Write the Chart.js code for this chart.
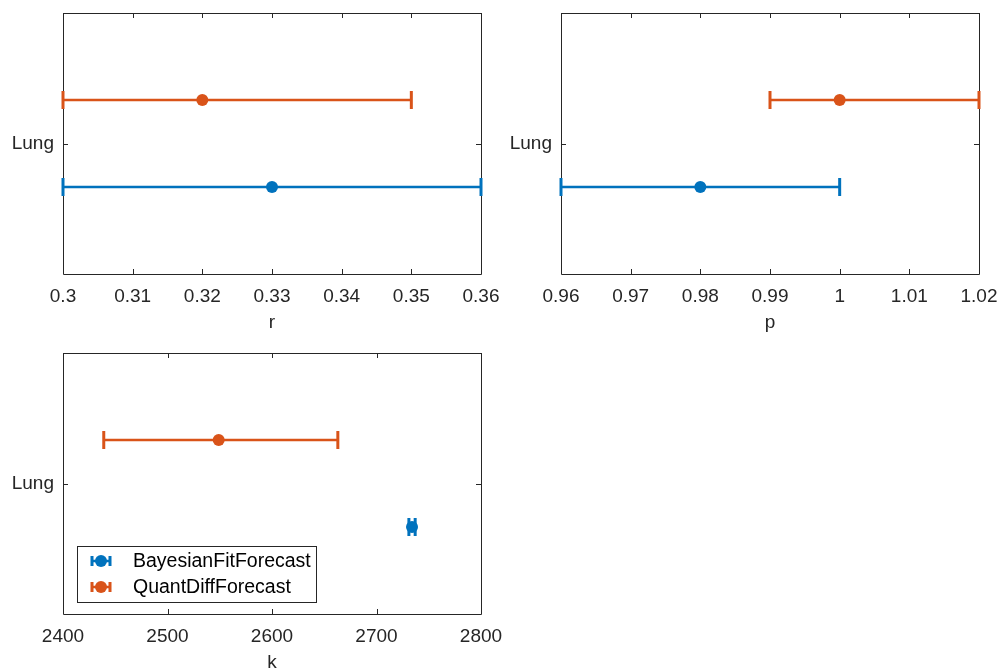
<!DOCTYPE html>
<html>
<head>
<meta charset="utf-8">
<script src="https://cdn.jsdelivr.net/npm/chart.js@4.4.1/dist/chart.umd.min.js"></script>
<style>
  html, body { margin: 0; padding: 0; background: #ffffff; overflow: hidden; }
  #wrap { position: relative; width: 1000px; height: 668px; overflow: hidden; }
  canvas { position: absolute; }
</style>
</head>
<body>
<div id="wrap">
  <canvas id="cR" width="520" height="334" style="left:0;top:0;width:520px;height:334px"></canvas>
  <canvas id="cP" width="500" height="334" style="left:500px;top:0;width:500px;height:334px"></canvas>
  <canvas id="cK" width="520" height="354" style="left:0;top:320px;width:520px;height:354px"></canvas>
</div>
<script>
// Group labels and series
const categories = ['Lung'];
const seriesNames = ['BayesianFitForecast', 'QuantDiffForecast'];
const seriesColors = ['#0072BD', '#D95319'];

// Parameter r: estimate with lower / upper bounds
const rBayes = [0.33];
const rBayesLow = [0.30];
const rBayesHigh = [0.36];
const rQuant = [0.32];
const rQuantLow = [0.30];
const rQuantHigh = [0.35];
const rTicks = [0.30, 0.31, 0.32, 0.33, 0.34, 0.35, 0.36];

// Parameter p
const pBayes = [0.98];
const pBayesLow = [0.96];
const pBayesHigh = [1.00];
const pQuant = [1.00];
const pQuantLow = [0.99];
const pQuantHigh = [1.02];
const pTicks = [0.96, 0.97, 0.98, 0.99, 1.00, 1.01, 1.02];

// Parameter k
const kBayes = [2734];
const kBayesLow = [2731];
const kBayesHigh = [2737];
const kQuant = [2549];
const kQuantLow = [2439];
const kQuantHigh = [2663];
const kTicks = [2400, 2500, 2600, 2700, 2800];

// vertical offset of each series around its group row
const seriesOffset = [-1 / 6, 1 / 6];

Chart.defaults.font.family = '"Liberation Sans", Arial, Helvetica, sans-serif';
Chart.defaults.color = '#262626';
Chart.defaults.devicePixelRatio = 1;

const FONT_SIZE = 19;
const LEGEND_FONT_SIZE = 19.5;
const AXIS_COLOR = '#262626';

function errorDatasets(estimates, lows, highs) {
  const sets = [];
  estimates.forEach((est, s) => {
    const color = seriesColors[s];
    est.forEach((v, i) => {
      const y = i + 1 + seriesOffset[s];
      // whisker with end caps
      sets.push({
        type: 'line',
        label: seriesNames[s] + ' range',
        data: [{ x: lows[s][i], y: y }, { x: highs[s][i], y: y }],
        borderColor: color,
        backgroundColor: color,
        borderWidth: 2.5,
        pointStyle: 'line',
        pointRotation: 90,
        pointRadius: 9,
        pointBorderWidth: 3,
        pointBorderColor: color,
        pointHoverRadius: 9,
        clip: false,
        order: 2
      });
      // centre estimate
      sets.push({
        type: 'scatter',
        label: seriesNames[s],
        data: [{ x: v, y: y }],
        borderColor: color,
        backgroundColor: color,
        pointStyle: 'circle',
        pointRadius: 6,
        pointBorderWidth: 0,
        clip: false,
        order: 1
      });
    });
  });
  return sets;
}

// box around the plot area with inward tick marks on all four sides
const framePlugin = {
  id: 'frame',
  beforeDatasetsDraw(chart) {
    const { ctx, chartArea: a, scales } = chart;
    const len = 5;
    ctx.save();
    ctx.strokeStyle = AXIS_COLOR;
    ctx.lineWidth = 1;
    ctx.beginPath();
    ctx.rect(Math.round(a.left) + 0.5, Math.round(a.top) + 0.5,
             Math.round(a.right - a.left), Math.round(a.bottom - a.top));
    scales.x.ticks.forEach(t => {
      const x = Math.round(scales.x.getPixelForValue(t.value)) + 0.5;
      ctx.moveTo(x, a.bottom); ctx.lineTo(x, a.bottom - len);
      ctx.moveTo(x, a.top); ctx.lineTo(x, a.top + len);
    });
    scales.y.ticks.forEach(t => {
      const y = Math.round(scales.y.getPixelForValue(t.value)) + 0.5;
      ctx.moveTo(a.left, y); ctx.lineTo(a.left + len, y);
      ctx.moveTo(a.right, y); ctx.lineTo(a.right - len, y);
    });
    ctx.stroke();
    ctx.restore();
  }
};

// errorbar-style legend drawn inside the lower-left of the plot area
const legendPlugin = {
  id: 'errLegend',
  afterDatasetsDraw(chart, args, opts) {
    if (!opts.show) return;
    const { ctx, chartArea: a } = chart;
    ctx.save();
    ctx.font = LEGEND_FONT_SIZE + 'px ' + Chart.defaults.font.family;
    const textW = Math.max(...seriesNames.map(n => ctx.measureText(n).width));
    const left = a.left + 14, bottom = a.bottom - 12;
    const rowH = 26;
    const h = rowH * seriesNames.length + 4;
    const w = 56 + textW + 5;
    const top = bottom - h;
    ctx.fillStyle = '#ffffff';
    ctx.fillRect(left, top, w, h);
    ctx.strokeStyle = AXIS_COLOR;
    ctx.lineWidth = 1;
    ctx.strokeRect(Math.round(left) + 0.5, Math.round(top) + 0.5, Math.round(w), Math.round(h));
    seriesNames.forEach((name, i) => {
      const cy = top + 15 + i * rowH;
      const cx = left + 24;
      const color = seriesColors[i];
      ctx.strokeStyle = color;
      ctx.fillStyle = color;
      ctx.lineWidth = 2.5;
      ctx.beginPath();
      ctx.moveTo(cx - 9, cy); ctx.lineTo(cx + 9, cy);
      ctx.stroke();
      ctx.lineWidth = 3;
      ctx.beginPath();
      ctx.moveTo(cx - 9, cy - 5); ctx.lineTo(cx - 9, cy + 5);
      ctx.moveTo(cx + 9, cy - 5); ctx.lineTo(cx + 9, cy + 5);
      ctx.stroke();
      ctx.beginPath();
      ctx.arc(cx, cy, 6, 0, Math.PI * 2);
      ctx.fill();
      ctx.fillStyle = '#000000';
      ctx.textBaseline = 'middle';
      ctx.textAlign = 'left';
      ctx.fillText(name, left + 56, cy + 1);
    });
    ctx.restore();
  }
};

function makeChart(id, datasets, xTicks, xTitle, pad, yAxisWidth, showLegend) {
  return new Chart(document.getElementById(id), {
    data: { datasets },
    options: {
      responsive: false,
      animation: false,
      events: [],
      layout: { padding: pad },
      plugins: {
        legend: { display: false },
        tooltip: { enabled: false },
        errLegend: { show: showLegend }
      },
      scales: {
        x: {
          type: 'linear',
          min: xTicks[0],
          max: xTicks[xTicks.length - 1],
          grid: { display: false, drawTicks: false, tickLength: 0 },
          border: { display: false },
          afterBuildTicks: axis => { axis.ticks = xTicks.map(v => ({ value: v })); },
          afterFit: axis => {
            axis.height = 60;
            axis.paddingLeft = 0;
            axis.paddingRight = 0;
          },
          ticks: {
            autoSkip: false,
            maxRotation: 0,
            padding: 11,
            color: AXIS_COLOR,
            font: { size: FONT_SIZE },
            callback: v => String(Number(v.toFixed(4)))
          },
          title: {
            display: true,
            text: xTitle,
            color: AXIS_COLOR,
            font: { size: FONT_SIZE },
            padding: { top: 0, bottom: 0 }
          }
        },
        y: {
          type: 'linear',
          min: 0.5,
          max: categories.length + 0.5,
          grid: { display: false, drawTicks: false, tickLength: 0 },
          border: { display: false },
          afterBuildTicks: axis => { axis.ticks = categories.map((c, i) => ({ value: i + 1 })); },
          afterFit: axis => {
            axis.width = yAxisWidth;
            axis.paddingTop = 0;
            axis.paddingBottom = 0;
          },
          ticks: {
            padding: 9,
            color: AXIS_COLOR,
            font: { size: FONT_SIZE },
            callback: v => categories[Math.round(v) - 1]
          }
        }
      }
    },
    plugins: [framePlugin, legendPlugin]
  });
}

makeChart('cR',
  errorDatasets([rBayes, rQuant], [rBayesLow, rQuantLow], [rBayesHigh, rQuantHigh]),
  rTicks, 'r', { left: 0, top: 13, right: 39, bottom: 0 }, 63, false);

makeChart('cP',
  errorDatasets([pBayes, pQuant], [pBayesLow, pQuantLow], [pBayesHigh, pQuantHigh]),
  pTicks, 'p', { left: 0, top: 13, right: 21, bottom: 0 }, 61, false);

makeChart('cK',
  errorDatasets([kBayes, kQuant], [kBayesLow, kQuantLow], [kBayesHigh, kQuantHigh]),
  kTicks, 'k', { left: 0, top: 33, right: 39, bottom: 0 }, 63, true);
</script>
</body>
</html>
